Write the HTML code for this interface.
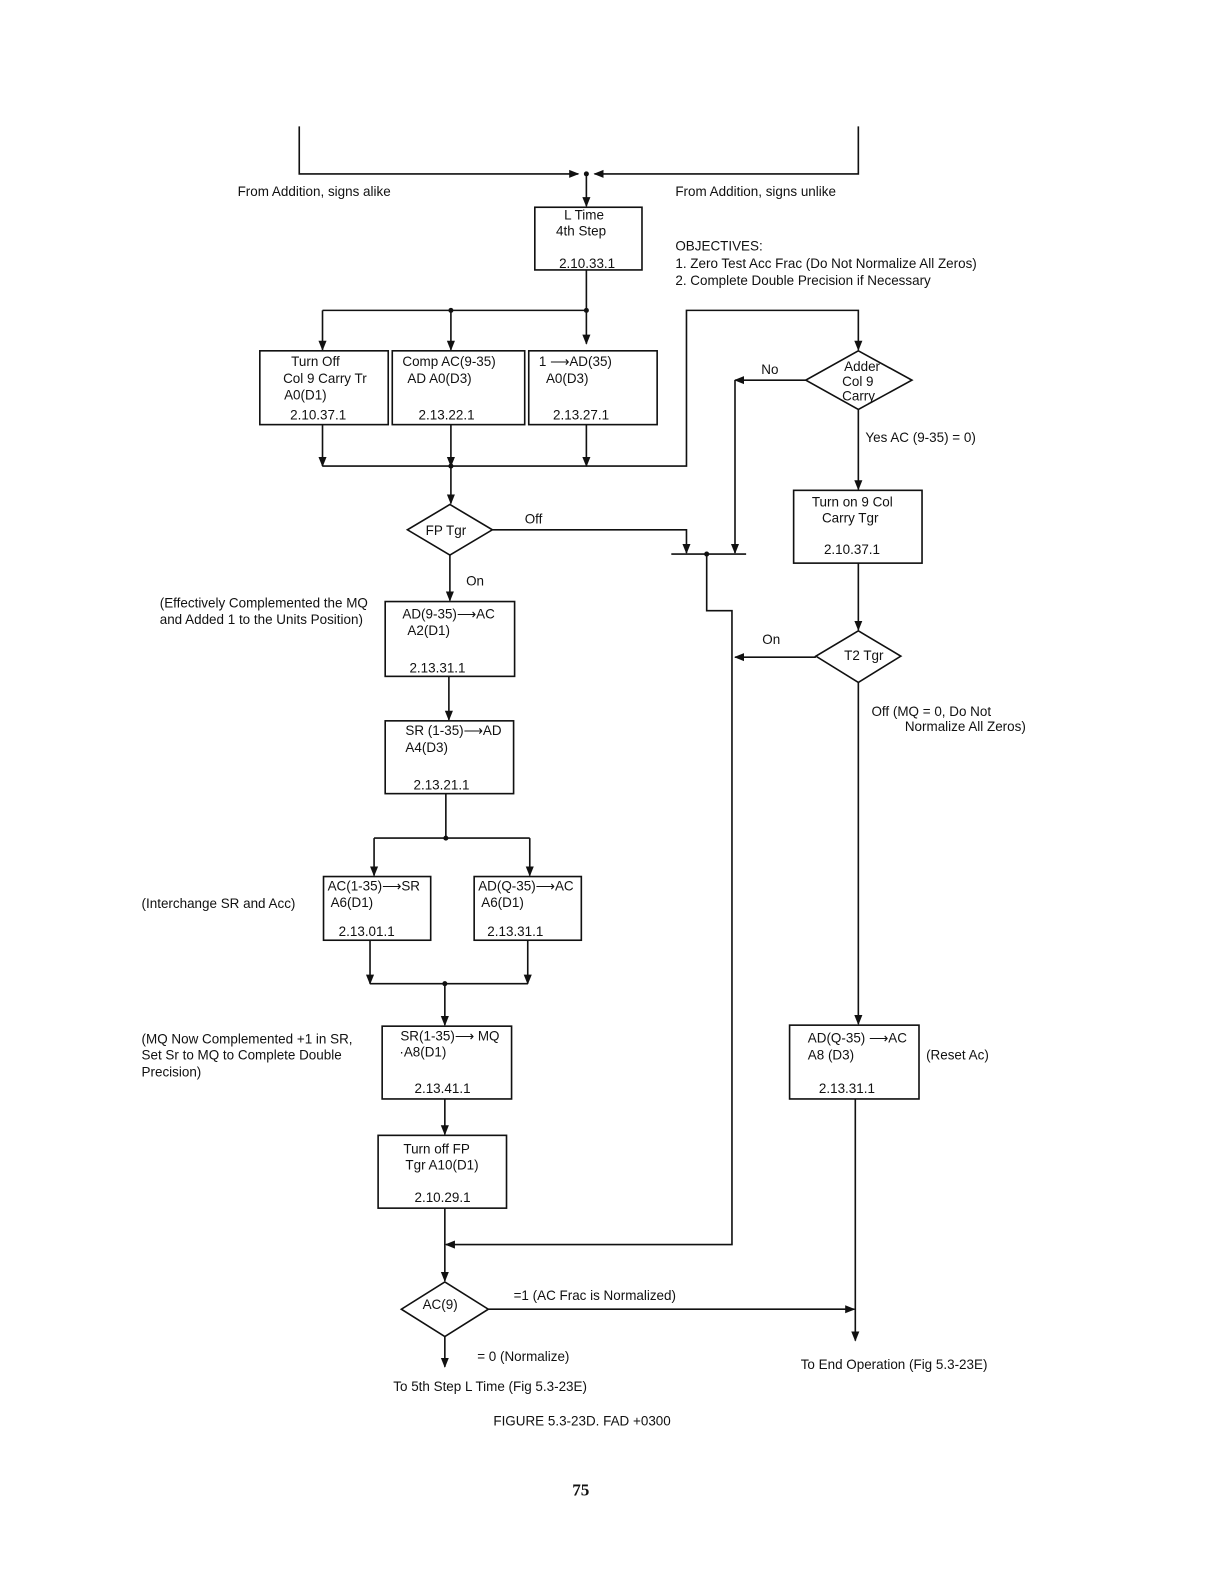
<!DOCTYPE html>
<html><head><meta charset="utf-8"><style>
html,body{margin:0;padding:0;background:#fff}
svg{display:block}
text{font-family:"Liberation Sans",sans-serif;font-size:13.3px;fill:#111}
</style></head><body>
<svg width="1224" height="1584" viewBox="0 0 1224 1584" xmlns="http://www.w3.org/2000/svg">
<defs>
<marker id="a" markerWidth="10" markerHeight="10" refX="9" refY="5" orient="auto" markerUnits="userSpaceOnUse">
<path d="M0,1 L10,5 L0,9 z" fill="#111"/></marker>
</defs>
<g transform="scale(1.011)">
<g stroke="#111" stroke-width="1.6" fill="none">
<polyline points="296,125 296,172 572,172" marker-end="url(#a)"/>
<polyline points="849,125 849,172 588,172" marker-end="url(#a)"/>
<line x1="580" y1="172" x2="580" y2="204" marker-end="url(#a)"/>
<rect x="529" y="205" width="106" height="62"/>
<line x1="580" y1="267" x2="580" y2="340" marker-end="url(#a)"/>
<line x1="319" y1="307" x2="580" y2="307"/>
<line x1="319" y1="307" x2="319" y2="346" marker-end="url(#a)"/>
<line x1="446" y1="307" x2="446" y2="346" marker-end="url(#a)"/>
<rect x="257" y="347" width="127" height="73"/>
<rect x="388" y="347" width="131" height="73"/>
<rect x="523" y="347" width="127" height="73"/>
<line x1="319" y1="420" x2="319" y2="461" marker-end="url(#a)"/>
<line x1="446" y1="420" x2="446" y2="461" marker-end="url(#a)"/>
<line x1="580" y1="420" x2="580" y2="461" marker-end="url(#a)"/>
<polyline points="319,461 679,461 679,307 849,307 849,346" marker-end="url(#a)"/>
<polygon points="849,347 902,376 849,405 797,376"/>
<polyline points="797,376 727,376" marker-end="url(#a)"/>
<line x1="727" y1="376" x2="727" y2="547" marker-end="url(#a)"/>
<line x1="849" y1="405" x2="849" y2="484" marker-end="url(#a)"/>
<rect x="785" y="485" width="127" height="72"/>
<line x1="446" y1="461" x2="446" y2="498" marker-end="url(#a)"/>
<polygon points="445,499 487,524 445,549 403,524"/>
<polyline points="487,524 679,524 679,547" marker-end="url(#a)"/>
<line x1="664" y1="548" x2="738" y2="548"/>
<polyline points="699,548 699,604 724,604 724,1231 441,1231" marker-end="url(#a)"/>
<line x1="445" y1="549" x2="445" y2="594" marker-end="url(#a)"/>
<rect x="381" y="595" width="128" height="74"/>
<line x1="444" y1="669" x2="444" y2="712" marker-end="url(#a)"/>
<rect x="381" y="713" width="127" height="72"/>
<line x1="441" y1="785" x2="441" y2="829"/>
<line x1="370" y1="829" x2="524" y2="829"/>
<line x1="370" y1="829" x2="370" y2="866" marker-end="url(#a)"/>
<line x1="524" y1="829" x2="524" y2="866" marker-end="url(#a)"/>
<rect x="320" y="867" width="106" height="63"/>
<rect x="469" y="867" width="106" height="63"/>
<line x1="366" y1="930" x2="366" y2="973" marker-end="url(#a)"/>
<line x1="522" y1="930" x2="522" y2="973" marker-end="url(#a)"/>
<line x1="366" y1="973" x2="522" y2="973"/>
<line x1="440" y1="973" x2="440" y2="1014" marker-end="url(#a)"/>
<rect x="378" y="1015" width="128" height="72"/>
<line x1="440" y1="1087" x2="440" y2="1122" marker-end="url(#a)"/>
<rect x="374" y="1123" width="127" height="72"/>
<line x1="440" y1="1195" x2="440" y2="1267" marker-end="url(#a)"/>
<polygon points="440,1268 483,1295 440,1322 397,1295"/>
<line x1="483" y1="1295" x2="845" y2="1295" marker-end="url(#a)"/>
<line x1="440" y1="1322" x2="440" y2="1352" marker-end="url(#a)"/>
<line x1="849" y1="557" x2="849" y2="623" marker-end="url(#a)"/>
<polygon points="849,624 891,649 849,675 807,649"/>
<line x1="807" y1="650" x2="727" y2="650" marker-end="url(#a)"/>
<line x1="849" y1="675" x2="849" y2="1013" marker-end="url(#a)"/>
<rect x="781" y="1014" width="128" height="73"/>
<line x1="846" y1="1087" x2="846" y2="1326" marker-end="url(#a)"/>
</g>
<g fill="#111">
<circle cx="580" cy="172" r="2.5"/>
<circle cx="446" cy="307" r="2.5"/><circle cx="580" cy="307" r="2.5"/>
<circle cx="446" cy="461" r="2.5"/><circle cx="699" cy="548" r="2.5"/>
<circle cx="441" cy="829" r="2.5"/><circle cx="440" cy="973" r="2.5"/>
</g>
<text x="235" y="194">From Addition, signs alike</text>
<text x="668" y="194">From Addition, signs unlike</text>
<text x="558" y="217">L Time</text>
<text x="550" y="233">4th Step</text>
<text x="553" y="265">2.10.33.1</text>
<text x="668" y="248">OBJECTIVES:</text>
<text x="668" y="265">1. Zero Test Acc Frac (Do Not Normalize All Zeros)</text>
<text x="668" y="282">2. Complete Double Precision if Necessary</text>
<text x="288" y="362">Turn Off</text>
<text x="280" y="379">Col 9 Carry Tr</text>
<text x="281" y="395">A0(D1)</text>
<text x="287" y="415">2.10.37.1</text>
<text x="398" y="362">Comp AC(9-35)</text>
<text x="403" y="379">AD A0(D3)</text>
<text x="414" y="415">2.13.22.1</text>
<text x="533" y="362">1 ⟶AD(35)</text>
<text x="540" y="379">A0(D3)</text>
<text x="547" y="415">2.13.27.1</text>
<text x="835" y="367">Adder</text>
<text x="833" y="382">Col 9</text>
<text x="833" y="396">Carry</text>
<text x="753" y="370">No</text>
<text x="856" y="437">Yes  AC (9-35) = 0)</text>
<text x="803" y="501">Turn on 9 Col</text>
<text x="813" y="517">Carry Tgr</text>
<text x="815" y="548">2.10.37.1</text>
<text x="421" y="529">FP Tgr</text>
<text x="519" y="518">Off</text>
<text x="461" y="579">On</text>
<text x="158" y="601">(Effectively Complemented the MQ</text>
<text x="158" y="617">and Added 1 to the Units Position)</text>
<text x="398" y="612">AD(9-35)⟶AC</text>
<text x="403" y="628">A2(D1)</text>
<text x="405" y="665">2.13.31.1</text>
<text x="754" y="637">On</text>
<text x="835" y="653">T2 Tgr</text>
<text x="862" y="708">Off (MQ = 0,  Do Not</text>
<text x="895" y="723">Normalize All Zeros)</text>
<text x="401" y="727">SR (1-35)⟶AD</text>
<text x="401" y="744">A4(D3)</text>
<text x="409" y="781">2.13.21.1</text>
<text x="140" y="898">(Interchange SR and Acc)</text>
<text x="324" y="881">AC(1-35)⟶SR</text>
<text x="327" y="897">A6(D1)</text>
<text x="335" y="926">2.13.01.1</text>
<text x="473" y="881">AD(Q-35)⟶AC</text>
<text x="476" y="897">A6(D1)</text>
<text x="482" y="926">2.13.31.1</text>
<text x="140" y="1032">(MQ Now Complemented +1 in SR,</text>
<text x="140" y="1048">Set Sr to MQ to Complete Double</text>
<text x="140" y="1065">Precision)</text>
<text x="396" y="1029">SR(1-35)⟶ MQ</text>
<text x="395" y="1045">·A8(D1)</text>
<text x="410" y="1081">2.13.41.1</text>
<text x="799" y="1031">AD(Q-35) ⟶AC</text>
<text x="799" y="1048">A8 (D3)</text>
<text x="916" y="1048">(Reset Ac)</text>
<text x="810" y="1081">2.13.31.1</text>
<text x="399" y="1141">Turn off FP</text>
<text x="401" y="1157">Tgr  A10(D1)</text>
<text x="410" y="1189">2.10.29.1</text>
<text x="418" y="1295">AC(9)</text>
<text x="508" y="1286">=1 (AC Frac is Normalized)</text>
<text x="472" y="1346">= 0 (Normalize)</text>
<text x="389" y="1376">To 5th Step L Time (Fig 5.3-23E)</text>
<text x="792" y="1354">To End Operation (Fig 5.3-23E)</text>
<text x="488" y="1410">FIGURE 5.3-23D.   FAD +0300</text>
<text x="566" y="1479" style="font-family:'Liberation Serif',serif;font-size:17px;font-weight:bold">75</text>
</g>
</svg>
</body></html>
